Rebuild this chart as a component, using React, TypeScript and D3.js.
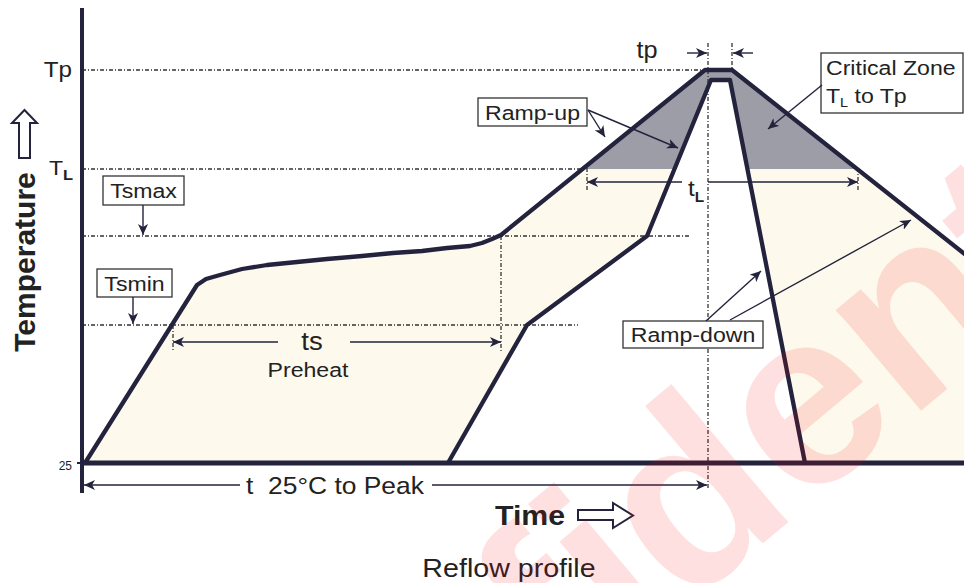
import React from 'react';
import * as d3 from 'd3';

const W = 964;
const H = 583;
const INK = '#23233d';
const TEXT = '#222';
const CREAM = '#fdf9ec';
const GRAY = '#9d9da8';
const FONT = "'Liberation Sans', Arial, sans-serif";

// schematic units: time = px-like distance from the axis, temp = height above the 25°C baseline
const outerProfile: [number, number][] = [
  [3, 0], [115, 178], [124, 184], [138, 188], [160, 194], [185, 198], [215, 201], [245, 204],
  [280, 207], [311, 210], [340, 212], [365, 215], [388, 217], [400, 220], [410, 224], [419, 228],
  [623, 393], [650, 393], [918, 181],
];
const innerProfile: [number, number][] = [
  [366, 0], [445, 138], [565, 227], [629, 383], [648, 383], [723, 0],
];

// temperature levels and how far their dashed guide runs
const levelNames = ['Tp', 'TL', 'Tsmax', 'Tsmin'];
const levelValues = [393, 294, 227, 138];
const levelGuideEnd = [623, 503, 608, 496];
const baseLabel = '25';

const xs = d3.scaleLinear().domain([0, 882]).range([82, 964]);
const ys = d3.scaleLinear().domain([0, 455]).range([463, 8]);

const Txt = ({ x, y, size, anchor = 'middle', weight = 'normal', sx = 1.1, children }: any) => (
  <text transform={`translate(${x},${y}) scale(${sx},1)`} fontSize={size} textAnchor={anchor}
    fontWeight={weight} fontFamily={FONT} fill={TEXT} style={{ whiteSpace: 'pre' }}>{children}</text>
);

const Arrow = ({ a, b }: { a: [number, number]; b: [number, number] }) => (
  <line x1={xs(a[0])} y1={ys(a[1])} x2={xs(b[0])} y2={ys(b[1])} stroke={INK} strokeWidth={1.4}
    markerEnd="url(#head)" />
);

const VDash = ({ t, v0, v1 }: { t: number; v0: number; v1: number }) => (
  <line x1={xs(t)} x2={xs(t)} y1={ys(v0)} y2={ys(v1)} stroke="#333" strokeWidth={1.3}
    strokeDasharray="4,2,1,2" />
);

const Box = ({ x0, x1, v0, v1, label, size = 21 }: any) => (
  <g>
    <rect x={xs(x0)} y={ys(v0)} width={xs(x1) - xs(x0)} height={ys(v1) - ys(v0)} fill="#fff"
      stroke="#333" strokeWidth={1.3} />
    <Txt x={(xs(x0) + xs(x1)) / 2} y={(ys(v0) + ys(v1)) / 2 + size * 0.36} size={size}>{label}</Txt>
  </g>
);

export default function App() {
  const area = d3.area<[number, number]>().x(d => xs(d[0])).y0(ys(0)).y1(d => ys(d[1]));
  const line = d3.line<[number, number]>().x(d => xs(d[0])).y(d => ys(d[1]));
  const tl = levelValues[1];

  return (
    <svg width={W} height={H} style={{ position: 'absolute', left: 0, top: 0, background: '#fff' }}>
      <defs>
        <marker id="head" markerUnits="userSpaceOnUse" markerWidth={12} markerHeight={10}
          refX={11} refY={5} orient="auto">
          <path d="M0,0 L11,5 L0,10 L3,5 Z" fill={INK} />
        </marker>
        <clipPath id="above-tl">
          <rect x={0} y={0} width={W} height={ys(tl)} />
        </clipPath>
      </defs>

      {/* fills */}
      <path d={area(outerProfile) || ''} fill={CREAM} />
      <path d={area(outerProfile) || ''} fill={GRAY} clipPath="url(#above-tl)" />
      <path d={area(innerProfile) || ''} fill="#fff" />

      {/* level guides */}
      {levelValues.map((v, i) => (
        <line key={levelNames[i]} x1={xs(0)} x2={xs(levelGuideEnd[i])} y1={ys(v)} y2={ys(v)}
          stroke="#333" strokeWidth={1.3} strokeDasharray="4,2,1,2" />
      ))}
      <VDash t={626} v0={420} v1={-27} />
      <VDash t={650} v0={420} v1={393} />
      <VDash t={91} v0={138} v1={113} />
      <VDash t={419} v0={227} v1={111} />
      <VDash t={505} v0={295} v1={271} />
      <VDash t={776} v0={295} v1={271} />

      {/* profiles */}
      <path d={line(outerProfile) || ''} fill="none" stroke={INK} strokeWidth={4.3} strokeLinejoin="round" />
      <path d={line(innerProfile) || ''} fill="none" stroke={INK} strokeWidth={4.3} strokeLinejoin="round" />

      {/* axes */}
      <line x1={xs(0)} x2={xs(0)} y1={ys(455)} y2={ys(-30)} stroke={INK} strokeWidth={4} />
      <line x1={xs(0)} x2={W} y1={ys(0)} y2={ys(0)} stroke={INK} strokeWidth={5} />
      <line x1={xs(-5)} x2={xs(0)} y1={ys(0)} y2={ys(0)} stroke={INK} strokeWidth={2} />

      {/* level labels */}
      <Txt x={72} y={ys(levelValues[0]) + 7} size={22} anchor="end">{levelNames[0]}</Txt>
      <text transform={`translate(${49},${ys(tl) + 6}) scale(1.1,1)`} fontSize={21} fontFamily={FONT} fill={TEXT}>
        T<tspan fontSize={15} dy={5} fontWeight="bold">L</tspan>
      </text>
      <Txt x={72} y={ys(0) + 7} size={12} anchor="end" sx={1}>{baseLabel}</Txt>

      {/* Tsmax / Tsmin callouts */}
      <Box x0={21} x1={102} v0={287} v1={258} label={levelNames[2]} />
      <Arrow a={[61, 258]} b={[61, 228]} />
      <Box x0={15} x1={90} v0={194} v1={166} label={levelNames[3]} />
      <Arrow a={[51, 166]} b={[51, 139]} />

      {/* ts */}
      <Arrow a={[196, 121]} b={[91, 121]} />
      <Arrow a={[268, 121]} b={[419, 121]} />
      <Txt x={xs(230)} y={ys(113)} size={25}>ts</Txt>
      <Txt x={xs(226)} y={ys(86)} size={21}>Preheat</Txt>

      {/* tL */}
      <Arrow a={[600, 281]} b={[505, 281]} />
      <Arrow a={[626, 281]} b={[776, 281]} />
      <text transform={`translate(${xs(606)},${ys(267)}) scale(1.1,1)`} fontSize={22} fontFamily={FONT} fill={TEXT}>
        t<tspan fontSize={14} dy={6} fontWeight="bold">L</tspan>
      </text>

      {/* tp */}
      <Arrow a={[605, 410]} b={[625, 410]} />
      <Arrow a={[671, 410]} b={[651, 410]} />
      <Txt x={xs(565)} y={ys(405)} size={23}>tp</Txt>

      {/* t 25°C to Peak */}
      <Arrow a={[158, -22]} b={[2, -22]} />
      <Arrow a={[350, -22]} b={[625, -22]} />
      <Txt x={xs(253)} y={ys(-31)} size={24}>{'t\u00a0 25°C to Peak'}</Txt>

      {/* Ramp-up */}
      <Box x0={396} x1={505} v0={365} v1={337} label="Ramp-up" />
      <Arrow a={[506, 353]} b={[523, 326]} />
      <Arrow a={[506, 353]} b={[596, 315]} />

      {/* Critical zone */}
      <rect x={xs(739)} y={ys(410)} width={xs(881) - xs(739)} height={ys(350) - ys(410)} fill="#fff"
        stroke="#333" strokeWidth={1.3} />
      <Txt x={xs(744)} y={ys(388)} size={21} anchor="start">Critical Zone</Txt>
      <text transform={`translate(${xs(744)},${ys(360)}) scale(1.1,1)`} fontSize={21} fontFamily={FONT} fill={TEXT}>
        T<tspan fontSize={13} dy={4}>L</tspan><tspan dy={-4}> to Tp</tspan>
      </text>
      <Arrow a={[740, 378]} b={[686, 334]} />

      {/* Ramp-down */}
      <Box x0={541} x1={681} v0={142} v1={115} label="Ramp-down" />
      <Arrow a={[624, 142]} b={[679, 192]} />
      <Arrow a={[648, 143]} b={[829, 243]} />

      {/* axis titles */}
      <text transform={`translate(35,262) rotate(-90)`} fontSize={30} fontWeight="bold" fontFamily={FONT}
        textAnchor="middle" fill={TEXT}>Temperature</text>
      <path d="M24.5,110 L37,123 L30,123 L30,158 L19,158 L19,123 L12,123 Z" fill="#fff" stroke={INK} strokeWidth={2} />
      <Txt x={530} y={525} size={28} weight="bold" sx={1.08}>Time</Txt>
      <path d="M578,510 L613,510 L613,503 L633,515.5 L613,528 L613,520 L578,520 Z" fill="#fff" stroke={INK} strokeWidth={2} />

      <Txt x={509} y={577} size={26}>Reflow profile</Txt>

      {/* watermark */}
      <text transform="translate(195,1020) rotate(-40)" fontSize={250} fontWeight="bold" fontFamily={FONT}
        fill="#ff0000" fillOpacity={0.12}>Confidential</text>
    </svg>
  );
}
